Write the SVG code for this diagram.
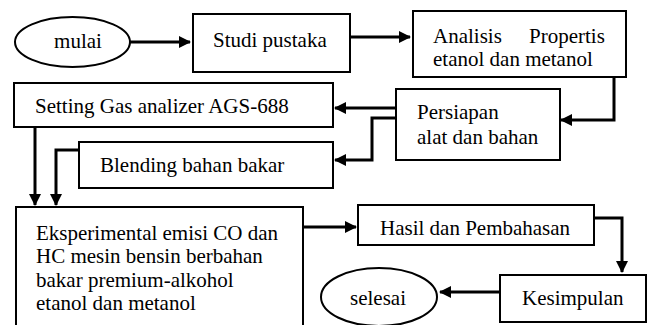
<svg xmlns="http://www.w3.org/2000/svg" width="647" height="325" viewBox="0 0 647 325">
<defs>
<marker id="ah" markerWidth="12" markerHeight="12" refX="11" refY="6" orient="auto" markerUnits="userSpaceOnUse">
<path d="M0,0 L12,6 L0,12 Z" fill="#000"/>
</marker>
<style>
.b{fill:#fff;stroke:#000;stroke-width:2}
.t{font-size:21px;fill:#000}
.c{fill:none;stroke:#000;stroke-width:3;marker-end:url(#ah)}
</style>
</defs>
<rect width="647" height="325" fill="#fff"/>
<g id="connectors">
<path class="c" d="M130,42 H190"/>
<path class="c" d="M350,37 H410"/>
<path class="c" d="M614,77 V120 H561"/>
<path class="c" d="M396,108 H335"/>
<path class="c" d="M396,118 H372 V160 H335"/>
<path class="c" d="M35,127 V205"/>
<path class="c" d="M79,150 H56 V205"/>
<path class="c" d="M303,227 H356"/>
<path class="c" d="M594,218 H622 V272"/>
<path class="c" d="M500,292 H440"/>
</g>
<g font-family="Liberation Serif, DejaVu Serif, serif">
<g id="mulai">
<ellipse class="b" cx="72.5" cy="42" rx="57.5" ry="25"/>
<text class="t" x="78" y="48" text-anchor="middle">mulai</text>
</g>
<g id="studi">
<rect class="b" x="193" y="14" width="157" height="58"/>
<text class="t" x="213" y="47">Studi pustaka</text>
</g>
<g id="analisis">
<rect class="b" x="413" y="11" width="213" height="66"/>
<text class="t" y="43"><tspan x="433">Analisis</tspan><tspan x="529">Propertis</tspan></text>
<text class="t" x="433" y="66">etanol dan metanol</text>
</g>
<g id="persiapan">
<rect class="b" x="396" y="89" width="164" height="71"/>
<text class="t" x="417" y="119">Persiapan</text>
<text class="t" x="417" y="144">alat dan bahan</text>
</g>
<g id="setting">
<rect class="b" x="14" y="83" width="319" height="44"/>
<text class="t" x="35" y="113">Setting Gas analizer AGS-688</text>
</g>
<g id="blending">
<rect class="b" x="79" y="142" width="254" height="46"/>
<text class="t" x="100" y="172">Blending bahan bakar</text>
</g>
<g id="eksperimental">
<rect class="b" x="16" y="207" width="287" height="130"/>
<text class="t" x="36" y="240">Eksperimental emisi CO dan</text>
<text class="t" x="36" y="263">HC mesin bensin berbahan</text>
<text class="t" x="36" y="287">bakar premium-alkohol</text>
<text class="t" x="36" y="310">etanol dan metanol</text>
</g>
<g id="hasil">
<rect class="b" x="358" y="205" width="236" height="40"/>
<text class="t" x="380" y="235">Hasil dan Pembahasan</text>
</g>
<g id="kesimpulan">
<rect class="b" x="500" y="275" width="146" height="47"/>
<text class="t" x="522" y="305">Kesimpulan</text>
</g>
<g id="selesai">
<ellipse class="b" cx="379" cy="297" rx="58" ry="29"/>
<text class="t" x="378" y="305" text-anchor="middle">selesai</text>
</g>
</g>
</svg>
